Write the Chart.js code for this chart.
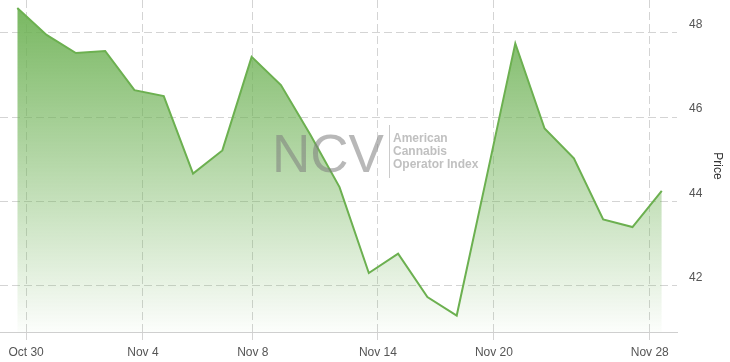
<!DOCTYPE html>
<html>
<head>
<meta charset="utf-8">
<script src="https://cdn.jsdelivr.net/npm/chart.js@4/dist/chart.umd.min.js"></script>
<style>
  html, body { margin: 0; padding: 0; background: #fff; }
  #wrap { width: 730px; height: 362px; position: relative; }
</style>
</head>
<body>
<div id="wrap"><canvas id="priceChart"></canvas></div>
<script>
// one value per trading session, equally spaced along the axis
const prices = [48.59, 47.95, 47.52, 47.57, 46.64, 46.50, 44.66, 45.21, 47.43, 46.76, 45.59,
  44.34, 42.30, 42.76, 41.73, 41.29, 44.51, 47.75, 45.73, 45.02, 43.57, 43.39, 44.25];
const tickLabels = ["Oct 30", "Nov 4", "Nov 8", "Nov 14", "Nov 20", "Nov 28"];
const tickPositions = [0.30, 4.29, 8.04, 12.31, 16.27, 21.59];
const yTicks = [42, 44, 46, 48];

const points = prices.map((p, i) => ({ x: i, y: p }));

const watermark = {
  id: "watermark",
  afterDatasetsDraw(chart) {
    const c = chart.ctx;
    c.save();
    c.fillStyle = "rgba(125,125,125,0.55)";
    c.font = "53px 'Liberation Sans', Arial, sans-serif";
    c.textBaseline = "alphabetic";
    c.fillText("NCV", 272, 172);
    c.strokeStyle = "rgba(190,190,190,0.8)";
    c.lineWidth = 1;
    c.beginPath();
    c.moveTo(389.5, 125);
    c.lineTo(389.5, 178);
    c.stroke();
    c.fillStyle = "rgba(185,185,185,0.9)";
    c.font = "bold 12px 'Liberation Sans', Arial, sans-serif";
    c.fillText("American", 393, 142);
    c.fillText("Cannabis", 393, 155);
    c.fillText("Operator Index", 393, 168);
    c.restore();
  }
};

new Chart(document.getElementById("priceChart"), {
  type: "line",
  data: {
    datasets: [{
      data: points,
      borderColor: "#6cb050",
      borderWidth: 2,
      pointRadius: 0,
      tension: 0,
      fill: "start",
      backgroundColor: (ctx) => {
        const area = ctx.chart.chartArea;
        if (!area) return "rgba(110,176,85,0.5)";
        const g = ctx.chart.ctx.createLinearGradient(0, area.top, 0, area.bottom);
        g.addColorStop(0, "rgba(110,178,85,0.95)");
        g.addColorStop(0.5, "rgba(110,178,85,0.5)");
        g.addColorStop(1, "rgba(110,178,85,0.02)");
        return g;
      }
    }]
  },
  options: {
    responsive: true,
    maintainAspectRatio: false,
    animation: false,
    layout: { padding: 0 },
    plugins: {
      legend: { display: false },
      tooltip: { enabled: false }
    },
    scales: {
      x: {
        type: "linear",
        min: -0.59,
        max: 22.52,
        afterBuildTicks: (scale) => {
          scale.ticks = tickPositions.map(v => ({ value: v }));
        },
        afterFit: (scale) => {
          scale.height = 30;
          scale.paddingLeft = 0;
          scale.paddingRight = 0;
        },
        ticks: {
          autoSkip: false,
          maxRotation: 0,
          padding: 5,
          color: "#555",
          font: { family: "'Liberation Sans', Arial, sans-serif", size: 12 },
          callback: (v, i) => tickLabels[i]
        },
        grid: {
          color: "#d4d4d4",
          tickLength: 8,
          tickColor: "#d4d4d4"
        },
        border: { display: true, color: "#cfcfcf", width: 1, dash: [8, 4] }
      },
      y: {
        position: "right",
        min: 40.9,
        max: 48.78,
        afterBuildTicks: (scale) => {
          scale.ticks = yTicks.map(v => ({ value: v }));
        },
        afterFit: (scale) => {
          scale.width = 53;
          scale.paddingTop = 0;
          scale.paddingBottom = 0;
        },
        ticks: {
          padding: 12,
          labelOffset: -8,
          color: "#555",
          font: { family: "'Liberation Sans', Arial, sans-serif", size: 12 }
        },
        grid: {
          color: "#d4d4d4",
          drawTicks: false
        },
        border: { display: false, dash: [8, 4] },
        title: {
          display: true,
          text: "Price",
          color: "#333",
          padding: { top: 5, bottom: 7 },
          font: { family: "'Liberation Sans', Arial, sans-serif", size: 12 }
        }
      }
    }
  },
  plugins: [watermark]
});
</script>
</body>
</html>
